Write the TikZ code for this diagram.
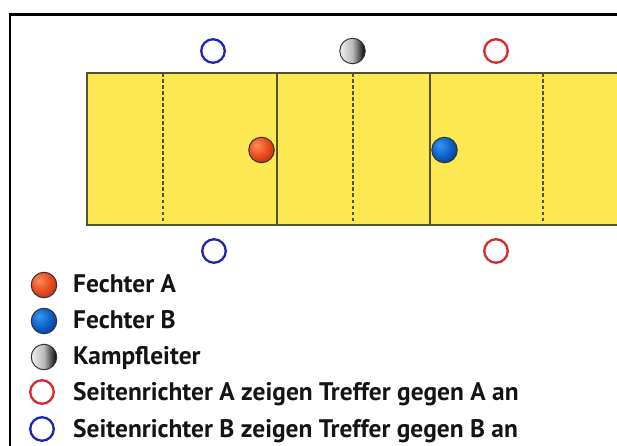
\documentclass[tikz,border=0pt]{standalone}
\usepackage{fontspec}
\setmainfont{PT Sans}

% piste and referee colours
\definecolor{pisteYellow}{HTML}{FBE852}
\definecolor{pisteEdge}{HTML}{55512A}
\definecolor{refBlue}{HTML}{1C24B8}
\definecolor{refRed}{HTML}{D22A2E}
% fencer ball colours
\definecolor{aLight}{HTML}{FF8F55}
\definecolor{aMid}{HTML}{E5461B}
\definecolor{aDark}{HTML}{7A1405}
\definecolor{bLight}{HTML}{3399F2}
\definecolor{bMid}{HTML}{0A5BC0}
\definecolor{bDark}{HTML}{001850}

% lit-from-top-left balls
\pgfdeclareradialshading{fencerA}{\pgfpoint{-10bp}{10bp}}{color(0bp)=(aLight); color(22bp)=(aMid); color(50bp)=(aDark); color(72bp)=(aDark)}
\pgfdeclareradialshading{fencerB}{\pgfpoint{-10bp}{10bp}}{color(0bp)=(bLight); color(22bp)=(bMid); color(50bp)=(bDark); color(72bp)=(bDark)}

\begin{document}
\begin{tikzpicture}[x=1pt,y=-1pt,
  ball/.style={circle, inner sep=0pt, minimum size=25.5pt, draw=black!80, line width=1pt},
  ballA/.style={ball, shade, shading=fencerA},
  ballB/.style={ball, shade, shading=fencerB},
  director/.style={ball, left color=gray!12, right color=black, middle color=gray!55},
  judge/.style={circle, inner sep=0pt, minimum size=23.5pt, line width=2.3pt},
  judgeA/.style={judge, draw=refRed},
  judgeB/.style={judge, draw=refBlue},
  legtext/.style={anchor=base west, inner sep=0pt, text=black!92,
                  font=\fontsize{25.4}{29}\selectfont\bfseries},
  halfline/.style={draw=pisteEdge, line width=1.7pt, dash pattern=on 3.5pt off 2.5pt},
  warnline/.style={draw=pisteEdge, line width=2pt}]

\useasboundingbox (0,0) rectangle (617,446);
\clip (0,0) rectangle (617,446);

% outer frame
\draw[line width=2.2pt] (10,14.5) rectangle (660,480);

% piste
\fill[pisteYellow] (86.5,73.5) rectangle (660,225);
\draw[pisteEdge, line width=2pt] (660,73.5) -- (86.5,73.5) -- (86.5,225) -- (660,225);
\foreach \x in {163,352.7,543} \draw[halfline] (\x,73.5) -- (\x,225);
\foreach \x in {276.5,429.5} \draw[warnline] (\x,73.5) -- (\x,225);

% fencers on the piste
\node[ballA] (fa) at (261.5,150) {};
\node[ballB] (fb) at (444.5,150) {};

% director and side judges
\node[director] (dir) at (352.5,51) {};
\node[judgeB] (jbTop) at (213,51) {};
\node[judgeA] (jaTop) at (496,51) {};
\node[judgeB] (jbBot) at (214,251) {};
\node[judgeA] (jaBot) at (496,251) {};

% legend
\node[ballA]    (lgA) at (44,285) {};
\node[ballB]    (lgB) at (44,321) {};
\node[director] (lgK) at (44,357) {};
\node[judgeA]   (lgSA) at (42,392) {};
\node[judgeB]   (lgSB) at (42,429) {};

\node[legtext] (txA)  at (73,292) {Fechter A};
\node[legtext] (txB)  at (73,328) {Fechter B};
\node[legtext] (txK)  at (73,364) {Kampfleiter};
\node[legtext] (txSA) at (73,400) {Seitenrichter A zeigen Treffer gegen A an};
\node[legtext] (txSB) at (73,437) {Seitenrichter B zeigen Treffer gegen B an};
\end{tikzpicture}
\end{document}
